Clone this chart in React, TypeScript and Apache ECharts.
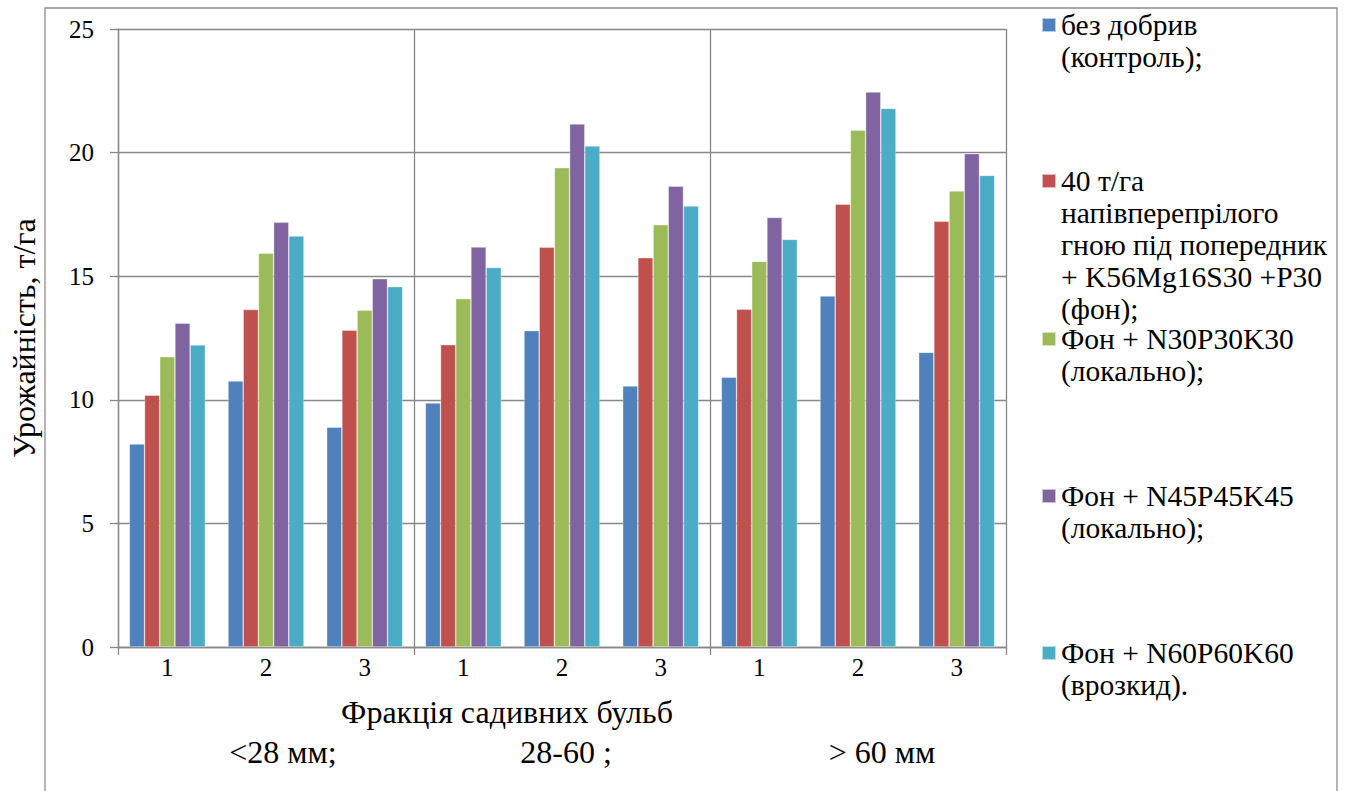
import React, { useEffect, useRef } from "react";
import * as echarts from "echarts";

const fractions = ["1", "2", "3", "1", "2", "3", "1", "2", "3"];
const groups = ["<28 мм;", "28-60 ;", "> 60 мм"];
const seriesNames = [
  "без добрив\n(контроль);",
  "40 т/га\nнапівперепрілого\nгною під попередник\n+ K56Mg16S30 +P30\n(фон);",
  "Фон + N30P30K30\n(локально);",
  "Фон + N45P45K45\n(локально);",
  "Фон + N60P60K60\n(врозкид).",
];
const control = [8.21, 10.76, 8.89, 9.87, 12.8, 10.56, 10.91, 14.2, 11.92];
const manure = [10.19, 13.65, 12.82, 12.23, 16.17, 15.75, 13.66, 17.91, 17.22];
const npk30 = [11.74, 15.93, 13.62, 14.09, 19.39, 17.08, 15.6, 20.91, 18.45];
const npk45 = [13.1, 17.18, 14.9, 16.18, 21.16, 18.64, 17.38, 22.45, 19.96];
const npk60 = [12.22, 16.63, 14.58, 15.35, 20.27, 17.84, 16.49, 21.79, 19.08];
const seriesValues = [control, manure, npk30, npk45, npk60];
const colors = ["#4F81BD", "#C0504D", "#9BBB59", "#8064A2", "#4BACC6"];
const yTicks = { min: 0, max: 25, interval: 5 };
const yTitle = "Урожайність, т/га";
const xTitle = "Фракція садивних бульб";

const FONT = "Times New Roman";
const GRAY = "#878787";

export default function App() {
  const ref = useRef<HTMLDivElement>(null);
  useEffect(() => {
    document.body.style.margin = "0";
    const chart = echarts.init(ref.current!, undefined, { renderer: "svg" });
    const L = 32;
    const iconCenters = [25, 181, 339, 496, 653];
    const legends = seriesNames.map((name, i) => {
      const n = name.split("\n").length;
      return {
        data: [name],
        orient: "vertical",
        left: 1041,
        top: iconCenters[i] - ((2 * n - 1) * L) / 2,
        padding: 0,
        itemWidth: 14,
        itemHeight: 14,
        selectedMode: false,
        icon: "rect",
        formatter: (nm: string) => "\n".repeat(n - 1) + nm,
        textStyle: {
          fontFamily: FONT,
          fontSize: 29.5,
          color: "#000",
          lineHeight: L,
        },
      };
    });
    const option: any = {
      animation: false,
      color: colors,
      textStyle: { fontFamily: FONT },
      legend: legends,
      grid: { left: 116, top: 29, width: 890, height: 618 },
      xAxis: [
        {
          type: "category",
          data: fractions,
          position: "bottom",
          axisLine: { show: true, lineStyle: { color: GRAY, width: 1.3 } },
          axisTick: { show: false },
          axisLabel: { fontFamily: FONT, fontSize: 25, color: "#000", margin: 8 },
          splitLine: { show: false },
        },
        {
          type: "category",
          data: groups,
          position: "bottom",
          axisLine: { show: false },
          axisTick: { show: true, length: 8, lineStyle: { color: GRAY, width: 1.3 } },
          axisLabel: { show: false },
          splitLine: { show: true, lineStyle: { color: GRAY, width: 1.3 } },
        },
      ],
      yAxis: {
        type: "value",
        min: yTicks.min,
        max: yTicks.max,
        interval: yTicks.interval,
        name: yTitle,
        nameLocation: "middle",
        nameGap: 78,
        nameTextStyle: { fontFamily: FONT, fontSize: 32, color: "#000" },
        axisLine: { show: true, lineStyle: { color: GRAY, width: 1.3 } },
        axisTick: { show: true, length: 8, lineStyle: { color: GRAY, width: 1.3 } },
        axisLabel: { fontFamily: FONT, fontSize: 25, color: "#000", margin: 24 },
        splitLine: { show: true, lineStyle: { color: GRAY, width: 1.3 } },
      },
      series: seriesValues.map((vals, i) => ({
        type: "bar",
        name: seriesNames[i],
        data: vals,
        xAxisIndex: 0,
        barGap: "0%",
        barCategoryGap: "23%",
        itemStyle: { color: colors[i], borderColor: "rgba(255,255,255,0.6)", borderWidth: 0.6 },
      })),
      graphic: [
        {
          type: "rect",
          shape: { x: 45, y: 8, width: 1292, height: 800 },
          style: { fill: "none", stroke: "#8c8c8c", lineWidth: 1.3 },
          silent: true,
          z: -10,
        },
        {
          type: "text",
          x: 507,
          y: 712,
          style: { text: xTitle, fontFamily: FONT, fontSize: 32, fill: "#000", align: "center", verticalAlign: "middle" },
        },
        ...groups.map((g, i) => ({
          type: "text",
          x: [283, 566, 882][i],
          y: 752,
          style: { text: g, fontFamily: FONT, fontSize: 32, fill: "#000", align: "center", verticalAlign: "middle" },
        })),
      ],
    };
    chart.setOption(option);
    return () => chart.dispose();
  }, []);
  return <div ref={ref} style={{ width: 1346, height: 791 }} />;
}
